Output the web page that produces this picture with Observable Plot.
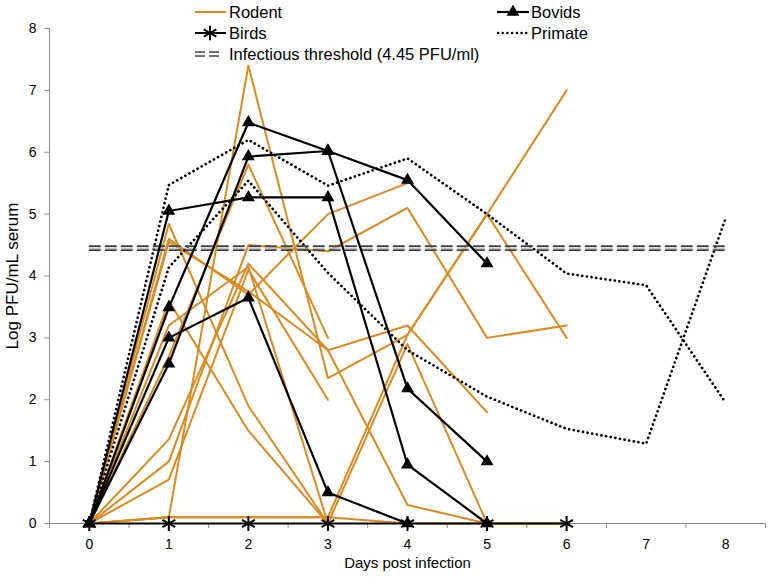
<!DOCTYPE html>
<html>
<head>
<meta charset="utf-8">
<script src="https://cdn.jsdelivr.net/npm/d3@7"></script>
<script src="https://cdn.jsdelivr.net/npm/@observablehq/plot@0.6"></script>
<style>
  html, body { margin: 0; padding: 0; background: #fff; }
  svg { display: block; }
</style>
</head>
<body>
<div id="chart"></div>
<script>
// ---- data (log PFU/mL serum by day post infection) ----
const days = [0, 1, 2, 3, 4, 5, 6, 7, 8];
const yTicks = [0, 1, 2, 3, 4, 5, 6, 7, 8];
const threshold = 4.45;

// Rodent
const rodentA = [0, 0.1, 7.4, 2.35, 3.05, 5.0, 7.0];
const rodentB = [0, 2.7, 5.8, 3.0];
const rodentC = [0, 4.84, 1.9, 0, 2.9, 0, 0];
const rodentD = [0, 3.6, 1.5, 0];
const rodentE = [0, 1.0, 4.5, 4.4, 5.1, 3.0, 3.2];
const rodentF = [0, 4.6, 3.7, 5.0, 5.5];
const rodentG = [0, 1.36, 4.2, 2.8, 3.2, 1.8];
const rodentH = [0, 0.71, 4.1, 2.0];
const rodentK = [0, 0.1, 0.1, 0.1, 0, 0, 0];
const rodentL = [0, 0.1, 0.1, 0.1, 3.05, 5.0, 3.0];
const rodentM = [0, 4.55, 3.75, 2.8, 0.3, 0];
const rodentN = [0, 3.2, 4.15, 0];

// Bovids
const bovidA = [0, 5.05, 5.27, 5.27, 0.95, 0];
const bovidB = [0, 3.49, 6.48, 6.02, 5.55, 4.2];
const bovidC = [0, 2.58, 5.93, 6.02, 2.18, 1.0];
const bovidD = [0, 3.0, 3.65, 0.5, 0];

// Birds
const birdA = [0, 0, 0, 0, 0, 0, 0];

// Primate
const primateA = [0, 5.47, 6.2, 5.46, 5.9, 5.0, 4.04, 3.85, 1.95];
const primateB = [0, 4.14, 5.54, 4.05, 2.8, 2.05, 1.53, 1.29, 4.94];

// ---- build long tables ----
function rows(list) {
  const out = [];
  list.forEach(([id, vals]) => vals.forEach((v, i) => {
    if (v != null) out.push({id, day: days[i], value: v});
  }));
  return out;
}
const rodentRows = rows([["A", rodentA], ["B", rodentB], ["C", rodentC], ["D", rodentD], ["E", rodentE],
  ["F", rodentF], ["G", rodentG], ["H", rodentH], ["K", rodentK], ["L", rodentL], ["M", rodentM], ["N", rodentN]]);
const bovidRows = rows([["A", bovidA], ["B", bovidB], ["C", bovidC], ["D", bovidD]]);
const birdRows = rows([["A", birdA]]);
const primateRows = rows([["A", primateA], ["B", primateB]]);

const orange = "#D98A22";
const axisGray = "#8c8c8c";
const font = "'Liberation Sans', Arial, sans-serif";

const plot = Plot.plot({
  width: 771,
  height: 581,
  marginLeft: 49,
  marginRight: 6,
  marginTop: 28,
  marginBottom: 58,
  style: {fontFamily: font, background: "#fff", color: "#000"},
  x: {type: "linear", domain: [-0.5, 8.5]},
  y: {domain: [0, 8]},
  marks: [
    // axes lines
    Plot.ruleX([-0.5], {y1: 0, y2: 8, stroke: axisGray, strokeWidth: 1}),
    Plot.ruleY([0], {x1: -0.5, x2: 8.5, stroke: axisGray, strokeWidth: 1}),
    Plot.axisY({ticks: yTicks, tickSize: 5, tickPadding: 8, fontSize: 14, stroke: axisGray, label: null}),
    Plot.axisX({ticks: d3.range(-0.5, 9, 1), tickSize: 5, tickFormat: () => "", stroke: axisGray, label: null}),
    Plot.axisX({ticks: days, tickSize: 0, tickPadding: 16, fontSize: 14, tickFormat: d3.format("d"), label: null}),
    Plot.text(["Log PFU/mL serum"], {frameAnchor: "left", dx: -37, rotate: -90, fontSize: 17, textAnchor: "middle", fill: "#000"}),
    Plot.text(["Days post infection"], {frameAnchor: "bottom", dy: 44, fontSize: 15, fill: "#000"}),
    // series
    Plot.lineY(rodentRows, {x: "day", y: "value", z: "id", stroke: orange, strokeWidth: 2}),
    Plot.lineY(primateRows, {x: "day", y: "value", z: "id", stroke: "#000", strokeWidth: 2.7,
      strokeDasharray: "0.1,4.6", strokeLinecap: "round"}),
    Plot.ruleY([threshold], {x1: 0, x2: 8, dy: -2, stroke: "#444", strokeWidth: 1.6, strokeDasharray: "12,4"}),
    Plot.ruleY([threshold], {x1: 0, x2: 8, dy: 0, stroke: "#b5b5b5", strokeWidth: 1.4, strokeDasharray: "12,4"}),
    Plot.ruleY([threshold], {x1: 0, x2: 8, dy: 2, stroke: "#444", strokeWidth: 1.6, strokeDasharray: "12,4"}),
    Plot.lineY(bovidRows, {x: "day", y: "value", z: "id", stroke: "#000", strokeWidth: 2.2}),
    Plot.dot(bovidRows, {x: "day", y: "value", symbol: "triangle", fill: "#000", r: 4.8}),
    Plot.lineY(birdRows, {x: "day", y: "value", stroke: "#000", strokeWidth: 2}),
    Plot.dot(birdRows, {x: "day", y: "value", symbol: "asterisk", stroke: "#000", strokeWidth: 2, r: 7})
  ]
});

document.getElementById("chart").appendChild(plot);

// ---- legend (inside the svg, top area) ----
const svg = d3.select(plot);
const lg = svg.append("g").attr("font-family", font).attr("font-size", 16.5).attr("text-anchor", "start");
function item(x, y, label, kind) {
  const g = lg.append("g");
  if (kind === "rodent") {
    g.append("line").attr("x1", x).attr("x2", x + 31).attr("y1", y).attr("y2", y).attr("stroke", orange).attr("stroke-width", 2);
  } else if (kind === "bovid") {
    g.append("line").attr("x1", x).attr("x2", x + 32).attr("y1", y).attr("y2", y).attr("stroke", "#000").attr("stroke-width", 2.2);
    g.append("path").attr("d", d3.symbol(d3.symbolTriangle, 70)()).attr("transform", `translate(${x + 16},${y})`).attr("fill", "#000");
  } else if (kind === "bird") {
    g.append("line").attr("x1", x).attr("x2", x + 31).attr("y1", y).attr("y2", y).attr("stroke", "#000").attr("stroke-width", 2);
    g.append("path").attr("d", d3.symbol(d3.symbolAsterisk, 150)()).attr("transform", `translate(${x + 15},${y})`).attr("stroke", "#000").attr("stroke-width", 2).attr("fill", "none");
  } else if (kind === "primate") {
    g.append("line").attr("x1", x + 1).attr("x2", x + 32).attr("y1", y).attr("y2", y).attr("stroke", "#000").attr("stroke-width", 2.4)
      .attr("stroke-dasharray", "0.1,4.6").attr("stroke-linecap", "round");
  } else if (kind === "threshold") {
    [-2, 2].forEach(o => g.append("line").attr("x1", x).attr("x2", x + 25).attr("y1", y + o).attr("y2", y + o)
      .attr("stroke", "#444").attr("stroke-width", 1.4).attr("stroke-dasharray", "10,4"));
  }
  g.append("text").attr("x", x + 34).attr("y", y).attr("dy", "0.35em").attr("fill", "#000").text(label);
}
item(195, 12, "Rodent", "rodent");
item(497, 12, "Bovids", "bovid");
item(195, 33, "Birds", "bird");
item(497, 33, "Primate", "primate");
item(195, 54, "Infectious threshold (4.45 PFU/ml)", "threshold");
</script>
</body>
</html>
